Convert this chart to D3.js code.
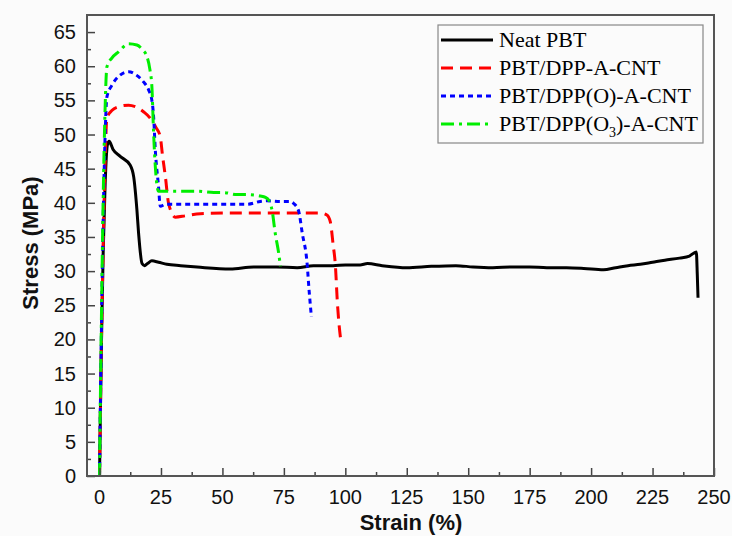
<!doctype html>
<html lang="en">

<head>
    <meta charset="utf-8">
    <title>Stress-strain curves</title>
    <script src="https://cdn.jsdelivr.net/npm/d3@7"></script>
    <style>
        body { margin: 0; background: #fbfbfb; }
        svg { display: block; }
        .tick-label { font-family: "Liberation Sans", Arial, sans-serif; font-size: 20px; fill: #111; }
        .axis-title { font-family: "Liberation Sans", Arial, sans-serif; font-size: 22px; font-weight: bold; fill: #111; }
        .legend-text { font-family: "Liberation Serif", "Times New Roman", serif; font-size: 22px; fill: #000; }
    </style>
</head>

<body>
    <svg></svg>
    <script>
        var width = 732;
        var height = 536;

        // [strain %, stress MPa]
        var neatPBT = [
            [0, 0], [0.3, 8], [0.8, 20], [1.5, 33], [2.3, 43], [3.2, 48.5], [3.9, 49],
            [5.5, 47.8], [8.4, 46.8], [12.5, 45.5], [13.9, 43.8], [15.2, 39], [15.9, 35.5],
            [17.3, 31.1], [18.3, 30.8], [19.5, 31.1], [21.3, 31.5], [24, 31.3], [27.4, 31],
            [33, 30.8], [39.7, 30.6], [53.2, 30.3], [62.7, 30.6], [72, 30.6], [80.4, 30.5],
            [87, 30.8], [95, 30.8], [100, 30.9], [106, 30.9], [109, 31.1], [115, 30.8],
            [125, 30.5], [135, 30.7], [145, 30.8], [152, 30.6], [160, 30.5], [168, 30.6],
            [175, 30.6], [182, 30.5], [190, 30.5], [197, 30.4], [205, 30.2], [210, 30.5],
            [215, 30.8], [220, 31.0], [225, 31.3], [230, 31.6], [236, 31.9], [240, 32.2],
            [242.8, 32.8], [243.2, 29.5], [243.5, 26.1]
        ];
        var pbtDpp = [
            [0, 0], [0.3, 8], [0.8, 20], [1.5, 34], [2.2, 45], [3, 52.4], [5, 53.5],
            [8, 54.1], [11.8, 54.3], [15, 54], [18, 53.3], [20.6, 52.4], [23, 51],
            [24.7, 49.7], [25.6, 47], [26.8, 43.8], [28.1, 39.9], [30.8, 37.9], [35, 38.1],
            [41, 38.4], [53.2, 38.5], [73.6, 38.5], [81.7, 38.5], [89.9, 38.5], [92.5, 38.2],
            [93.9, 37.2], [95, 34], [96, 30.6], [96.7, 25.8], [98.3, 19.4]
        ];
        var pbtDppO = [
            [0, 0], [0.3, 9], [0.8, 22], [1.5, 38], [2.2, 49], [3, 55.5], [5, 57.2],
            [8, 58.6], [11.8, 59.2], [15, 58.7], [17.9, 57.7], [20, 56.5], [21.3, 55],
            [22, 52.6], [22.7, 47.7], [24, 42.4], [24.7, 39.5], [27, 39.8], [32.9, 39.8],
            [46.5, 39.8], [60, 39.8], [65.4, 40.2], [68.2, 40.3], [73.6, 40.2], [77.6, 40.2],
            [79, 39.9], [81, 38.8], [82.5, 35.5], [84.4, 31.3], [85.3, 27], [86.2, 23.3]
        ];
        var pbtDppO3 = [
            [0, 0], [0.3, 10], [0.8, 24], [1.5, 41], [2.2, 53], [3, 59.9], [5, 61.2],
            [7.7, 62.1], [11.8, 63.3], [15.2, 63.1], [17.5, 62.4], [19.3, 61.4], [20.5, 59.5],
            [21.3, 57], [22, 50.2], [22.7, 45.3], [24, 41.7], [27, 41.7], [32.9, 41.7],
            [39.7, 41.7], [46.5, 41.5], [50.5, 41.5], [55.9, 41.2], [60, 41.2], [65.4, 41],
            [67.5, 40.8], [68.8, 40.4], [70.2, 38.9], [71.5, 35.5], [72.9, 32.6], [73.6, 30.7]
        ];

        var seriesNames = ["Neat PBT", "PBT/DPP-A-CNT", "PBT/DPP(O)-A-CNT", "PBT/DPP(O3)-A-CNT"];
        var seriesData = [neatPBT, pbtDpp, pbtDppO, pbtDppO3];
        var seriesColors = ["#000000", "#ff0000", "#0000ff", "#00ee00"];
        var seriesDash = [null, "12,7", "5,4", "13,5,3,5"];

        var xTicks = [0, 25, 50, 75, 100, 125, 150, 175, 200, 225, 250];
        var yTicks = [0, 5, 10, 15, 20, 25, 30, 35, 40, 45, 50, 55, 60, 65];

        // plot frame (note: "top" is reserved on window, so use other names)
        var plotLeft = 87, plotRight = 714, plotTop = 15, plotBottom = 476;

        var xScale = d3.scaleLinear()
            .domain([-5.1, 250])
            .range([plotLeft, plotRight]);

        var yScale = d3.scaleLinear()
            .domain([0, 67.5])
            .range([plotBottom, plotTop]);

        var svg = d3.select('svg').attr('width', width).attr('height', height);

        // lines, clipped to the frame
        svg.append('clipPath').attr('id', 'plot-clip')
            .append('rect')
            .attr('x', plotLeft).attr('y', plotTop)
            .attr('width', plotRight - plotLeft).attr('height', plotBottom - plotTop);

        var line = d3.line()
            .x(function (d) { return xScale(d[0]); })
            .y(function (d) { return yScale(d[1]); })
            .curve(d3.curveMonotoneX);

        var lines = svg.append('g').attr('clip-path', 'url(#plot-clip)');
        seriesData.forEach(function (data, i) {
            lines.append('path')
                .datum(data)
                .attr('d', line)
                .attr('fill', 'none')
                .attr('stroke', seriesColors[i])
                .attr('stroke-width', 3)
                .attr('stroke-dasharray', seriesDash[i]);
        });

        // ticks inward, major + minor
        var xAxis = d3.axisTop(xScale)
            .tickValues(xTicks)
            .tickSize(8)
            .tickFormat('');
        var xMinor = d3.axisTop(xScale)
            .tickValues(d3.range(12.5, 250, 25))
            .tickSize(4)
            .tickFormat('');
        var yAxis = d3.axisRight(yScale)
            .tickValues(yTicks)
            .tickSize(8)
            .tickFormat('');
        var yMinor = d3.axisRight(yScale)
            .tickValues(d3.range(2.5, 67.5, 5))
            .tickSize(4)
            .tickFormat('');

        [xAxis, xMinor].forEach(function (ax) {
            svg.append('g')
                .attr('class', 'axis')
                .attr('transform', 'translate(0, ' + plotBottom + ')')
                .call(ax);
        });
        [yAxis, yMinor].forEach(function (ax) {
            svg.append('g')
                .attr('class', 'axis')
                .attr('transform', 'translate(' + plotLeft + ', 0)')
                .call(ax);
        });
        svg.selectAll('.axis .domain').remove();
        svg.selectAll('.axis line').attr('stroke', '#444').attr('stroke-width', 1.5);

        // frame
        svg.append('rect')
            .attr('x', plotLeft).attr('y', plotTop)
            .attr('width', plotRight - plotLeft).attr('height', plotBottom - plotTop)
            .attr('fill', 'none')
            .attr('stroke', '#555')
            .attr('stroke-width', 2);

        // tick labels
        svg.selectAll('.xlab')
            .data(xTicks)
            .enter()
            .append('text')
            .attr('class', 'tick-label')
            .attr('x', function (d) { return xScale(d); })
            .attr('y', 504)
            .attr('text-anchor', 'middle')
            .text(function (d) { return d; });

        svg.selectAll('.ylab')
            .data(yTicks)
            .enter()
            .append('text')
            .attr('class', 'tick-label')
            .attr('x', 76)
            .attr('y', function (d) { return yScale(d) + 7; })
            .attr('text-anchor', 'end')
            .text(function (d) { return d; });

        // axis titles
        svg.append('text')
            .attr('class', 'axis-title')
            .attr('x', 411).attr('y', 530)
            .attr('text-anchor', 'middle')
            .text('Strain (%)');

        svg.append('text')
            .attr('class', 'axis-title')
            .attr('transform', 'translate(38, 243) rotate(-90)')
            .attr('text-anchor', 'middle')
            .text('Stress (MPa)');

        // legend
        var legend = svg.append('g');
        legend.append('rect')
            .attr('x', 438).attr('y', 25)
            .attr('width', 265).attr('height', 118)
            .attr('fill', '#fbfbfb')
            .attr('stroke', '#888')
            .attr('stroke-width', 1.2);

        var rowY = [40, 68, 96, 124];
        seriesNames.forEach(function (name, i) {
            legend.append('line')
                .attr('x1', 441).attr('x2', 493)
                .attr('y1', rowY[i]).attr('y2', rowY[i])
                .attr('stroke', seriesColors[i])
                .attr('stroke-width', 3)
                .attr('stroke-dasharray', seriesDash[i]);
            var t = legend.append('text')
                .attr('class', 'legend-text')
                .attr('x', 499)
                .attr('y', rowY[i] + 7);
            if (name.indexOf('O3') >= 0) {
                t.append('tspan').text('PBT/DPP(O');
                t.append('tspan').attr('font-size', '14px').attr('dy', 6).text('3');
                t.append('tspan').attr('dy', -6).text(')-A-CNT');
            } else {
                t.text(name);
            }
        });
    </script>

</body>

</html>
